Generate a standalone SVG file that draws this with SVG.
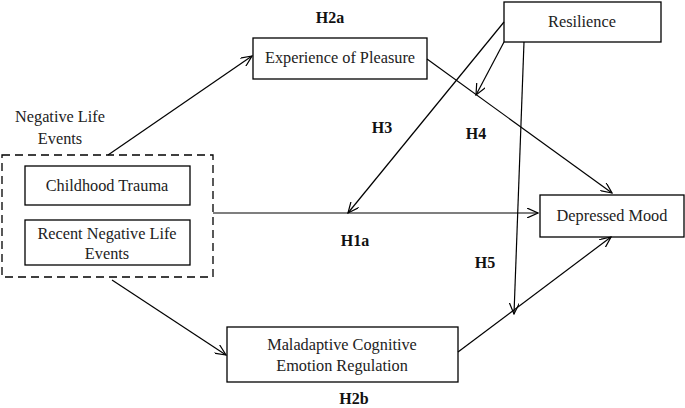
<svg xmlns="http://www.w3.org/2000/svg" width="685" height="408" viewBox="0 0 685 408">
<style>
.b{fill:#fff;stroke:#000;stroke-width:1.3}
.t{font-family:"Liberation Serif",serif;font-size:16.3px;fill:#222;text-anchor:middle}
.h{font-family:"Liberation Serif",serif;font-size:16px;font-weight:bold;fill:#111;text-anchor:middle}
.c line{stroke:#000;stroke-width:1.2;marker-end:url(#a)}
</style>
<defs><marker id="a" markerWidth="12" markerHeight="10" refX="11" refY="5" orient="auto" markerUnits="userSpaceOnUse"><path d="M0,0L11,5L0,10" fill="none" stroke="#000" stroke-width="1.2"/></marker></defs>
<rect width="685" height="408" fill="#fff"/>
<g id="negative-life-events">
<rect x="2" y="155" width="211" height="122" fill="none" stroke="#000" stroke-width="1.3" stroke-dasharray="8,5"/>
<text class="t" x="60" y="122">Negative Life</text>
<text class="t" x="60" y="144">Events</text>
</g>
<g id="childhood-trauma"><rect class="b" x="25" y="166" width="165" height="39"/><text class="t" x="107" y="191">Childhood Trauma</text></g>
<g id="recent-events"><rect class="b" x="25" y="220" width="165" height="45"/><text class="t" x="107" y="239">Recent Negative Life</text><text class="t" x="107" y="259">Events</text></g>
<g id="pleasure"><rect class="b" x="253" y="38" width="174" height="41"/><text class="t" x="340" y="63">Experience of Pleasure</text></g>
<g id="resilience"><rect class="b" x="504" y="2" width="157" height="40"/><text class="t" x="582" y="27">Resilience</text></g>
<g id="depressed"><rect class="b" x="540" y="195" width="144" height="42"/><text class="t" x="612" y="221">Depressed Mood</text></g>
<g id="maladaptive"><rect class="b" x="227" y="327" width="231" height="55"/><text class="t" x="342" y="350">Maladaptive Cognitive</text><text class="t" x="342" y="371">Emotion Regulation</text></g>
<g class="c" id="connectors">
<line x1="108" y1="155" x2="252" y2="56"/>
<line x1="427" y1="59" x2="612" y2="193"/>
<line x1="504" y1="22" x2="348" y2="213"/>
<line x1="504" y1="42" x2="476" y2="95"/>
<line x1="524" y1="42" x2="514" y2="314"/>
<line x1="213" y1="213" x2="538" y2="213"/>
<line x1="112" y1="280" x2="226" y2="355"/>
<line x1="458" y1="352" x2="611" y2="237"/>
</g>
<g id="labels">
<text class="h" x="330" y="23">H2a</text>
<text class="h" x="382" y="133">H3</text>
<text class="h" x="476" y="139">H4</text>
<text class="h" x="355" y="246">H1a</text>
<text class="h" x="485" y="268">H5</text>
<text class="h" x="354" y="404">H2b</text>
</g>
</svg>
